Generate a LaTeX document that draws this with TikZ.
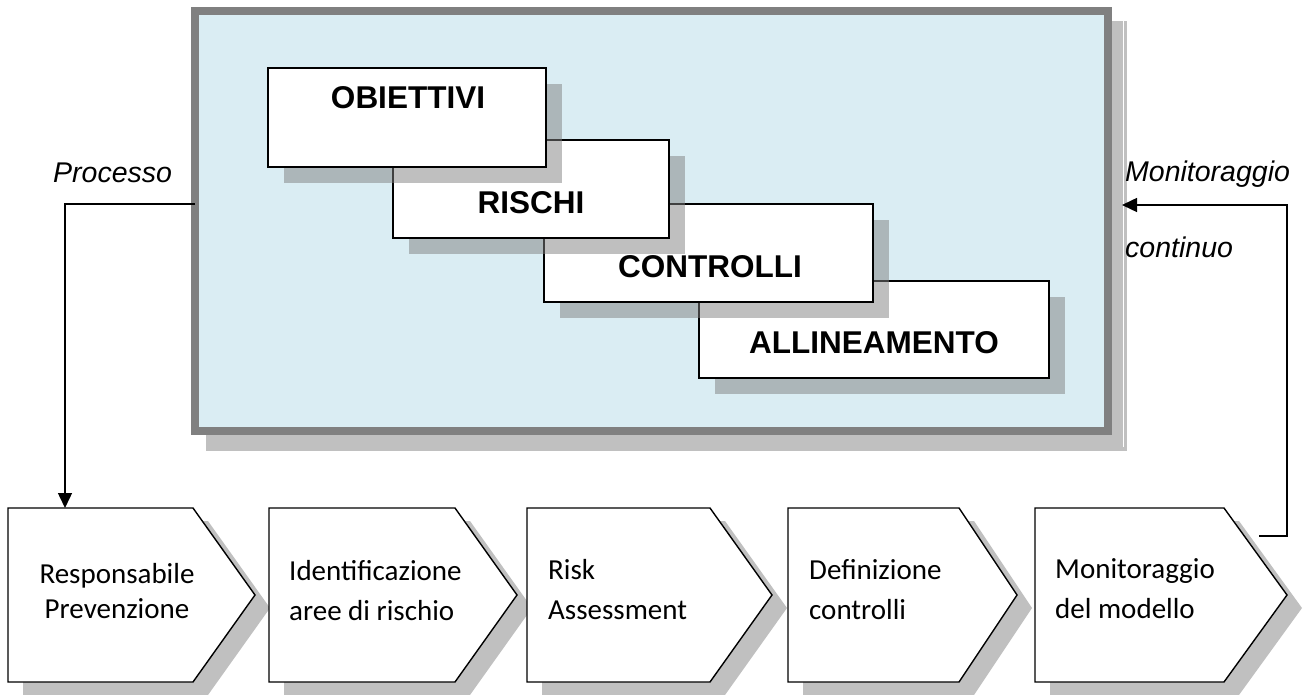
\documentclass[tikz,border=0pt]{standalone}
\usepackage{fontspec}
\setmainfont{Liberation Sans}
\newfontfamily\calibri{Carlito}
\usetikzlibrary{arrows.meta}
\definecolor{panelblue}{HTML}{DAEDF3}
\definecolor{panelborder}{HTML}{808080}
\definecolor{shadowgray}{HTML}{C0C0C0}
\begin{document}
\begin{tikzpicture}[x=1pt,y=-1pt,
  panel/.style={draw=panelborder,line width=8pt,fill=panelblue,inner sep=0},
  topbox/.style={draw=black,line width=1.2pt,fill=white,inner sep=0},
  topshadow/.style={fill=panelborder,fill opacity=0.5},
  toptext/.style={font=\fontsize{31.5}{36}\selectfont\bfseries,inner sep=0,anchor=base},
  chev/.style={draw=black,line width=1.4pt,fill=white,line join=miter},
  chevshadow/.style={fill=shadowgray},
  chevtext/.style={font=\calibri\fontsize{29}{40}\selectfont,align=left,inner sep=0,anchor=base west},
  side/.style={font=\fontsize{28.5}{34}\selectfont\itshape,inner sep=0,anchor=base west},
  conn/.style={line width=1.5pt,-{Triangle[length=15pt,width=14pt]}}
]
\useasboundingbox (0,0) rectangle (1304,695);
% panel shadow and panel
\fill[shadowgray] (206,21) rectangle (1127,451);
\draw[white,line width=0.8pt] (1123,21) -- (1123,447);
\node[panel,minimum width=913pt,minimum height=420pt] (panel) at (651.5,221) {};
% inner boxes, drawn from back to front
\fill[topshadow] (715,297) rectangle (1065,394);
\node[topbox,minimum width=350pt,minimum height=97pt] (alli) at (874,329.5) {};
\node[toptext] (alliT) at (874,353) {ALLINEAMENTO};
\fill[topshadow] (560,220) rectangle (889,318);
\node[topbox,minimum width=329pt,minimum height=98pt] (cont) at (708.5,253) {};
\node[toptext] (contT) at (710,277) {CONTROLLI};
\fill[topshadow] (409,156) rectangle (685,254);
\node[topbox,minimum width=276pt,minimum height=98pt] (risc) at (531,189) {};
\node[toptext] (riscT) at (531,214) {RISCHI};
\fill[topshadow] (284,84) rectangle (562,183);
\node[topbox,minimum width=278pt,minimum height=99pt] (obie) at (407,117.5) {};
\node[toptext] (obieT) at (408,109) {OBIETTIVI};
% side labels
\node[side] (proc) at (53,183) {Processo};
\node[side] (moni) at (1125,182) {Monitoraggio};
\node[side] (cont2) at (1125,258) {continuo};
% chevrons
\foreach \L/\N/\T in {8/193/255, 269/455/517, 527/710/772, 788/959/1017, 1035/1224/1287}{
  \fill[chevshadow] ({\L+15},{508+13}) -- ({\N+15},{508+13}) -- ({\T+15},{595+13}) -- ({\N+15},{682+13}) -- ({\L+15},{682+13}) -- cycle;
  \draw[chev] (\L,508) -- (\N,508) -- (\T,595) -- (\N,682) -- (\L,682) -- cycle;
}
\node[chevtext,align=center,anchor=base,font=\calibri\fontsize{29}{35}\selectfont] (c1) at (117,618) {Responsabile\\Prevenzione};
\node[chevtext] (c2) at (289,620) {Identificazione\\aree di rischio};
\node[chevtext] (c3) at (548,619) {Risk\\Assessment};
\node[chevtext] (c4) at (809,619) {Definizione\\controlli};
\node[chevtext] (c5) at (1055,618) {Monitoraggio\\del modello};
% connectors
\coordinate (procStart) at (195,204);
\coordinate (c1top) at (65,508);
\coordinate (monStart) at (1259,536);
\coordinate (monEnd) at (1122,205);
\draw[conn] (procStart) -| (c1top);
\draw[conn] (monStart) -- (1287,536) |- (monEnd);
\end{tikzpicture}
\end{document}
